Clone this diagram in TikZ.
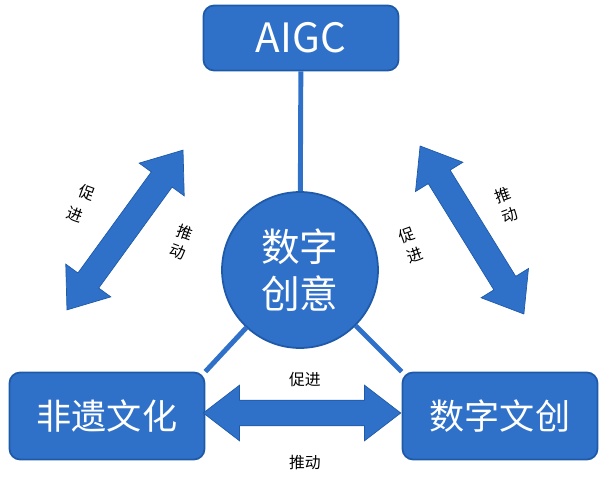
\documentclass[tikz,border=0pt]{standalone}
\usepackage{fontspec}
\newfontfamily\cjk{Noto Sans CJK SC}
\setmainfont{Noto Sans CJK SC}
\usetikzlibrary{shapes.arrows}
\definecolor{mblue}{HTML}{2F70C9}
\definecolor{dblue}{HTML}{1F5AA8}
\begin{document}
\begin{tikzpicture}[x=0.02cm,y=-0.02cm,
  box/.style={draw=dblue,line width=1pt,fill=mblue,rounded corners=6pt,text=white,
    minimum width=3.9cm,minimum height=1.3cm},
  dbl/.style={double arrow,fill=mblue,draw=dblue,inner xsep=0pt,inner ysep=0.25cm,
    double arrow head extend=0.3cm,double arrow tip angle=75,minimum height=3.95cm},
  link/.style={mblue,line width=2.8pt},
  lbl/.style={font=\fontsize{9}{11}\selectfont}]
	\useasboundingbox (0,0) rectangle (600,477);

	% boxes
	\node[box,font=\fontsize{23}{26}\selectfont] (aigc) at (301,38) {AIGC};
	\node[box,minimum height=1.74cm,font=\fontsize{20}{24}\selectfont] (heritage) at (107,416) {非遗文化};
	\node[box,minimum height=1.74cm,font=\fontsize{20}{24}\selectfont] (creative) at (500,416) {数字文创};
	\node[circle,draw=dblue,line width=1pt,fill=mblue,minimum size=3.12cm,text=white,
	  align=center,font=\fontsize{22}{27}\selectfont] (core) at (300,270) {数字\\创意};

	% links
	\draw[link] (aigc) -- (core);
	\draw[link] (core) -- (heritage.north east);
	\draw[link] (core) -- (creative.north west);

	% arrows
	\node[dbl,rotate=54] (la) at (125,230) {};
	\node[dbl,rotate=-58.3] (ra) at (472,230) {};
	\node[dbl] (ba) at (302,413) {};

	% labels
	\node[lbl,rotate=-20] (l1) at (87,193) {促};
	\node[lbl,rotate=-20] (l2) at (75,215) {进};
	\node[lbl,rotate=-20] (l3) at (185,233) {推};
	\node[lbl,rotate=-20] (l4) at (178,252) {动};
	\node[lbl,rotate=20] (r1) at (503,195) {推};
	\node[lbl,rotate=20] (r2) at (510,215) {动};
	\node[lbl,rotate=20] (r3) at (407,235) {促};
	\node[lbl,rotate=20] (r4) at (415,255) {进};
	\node[lbl] (b1) at (305,380) {促进};
	\node[lbl] (b2) at (305,462) {推动};
\end{tikzpicture}
\end{document}
